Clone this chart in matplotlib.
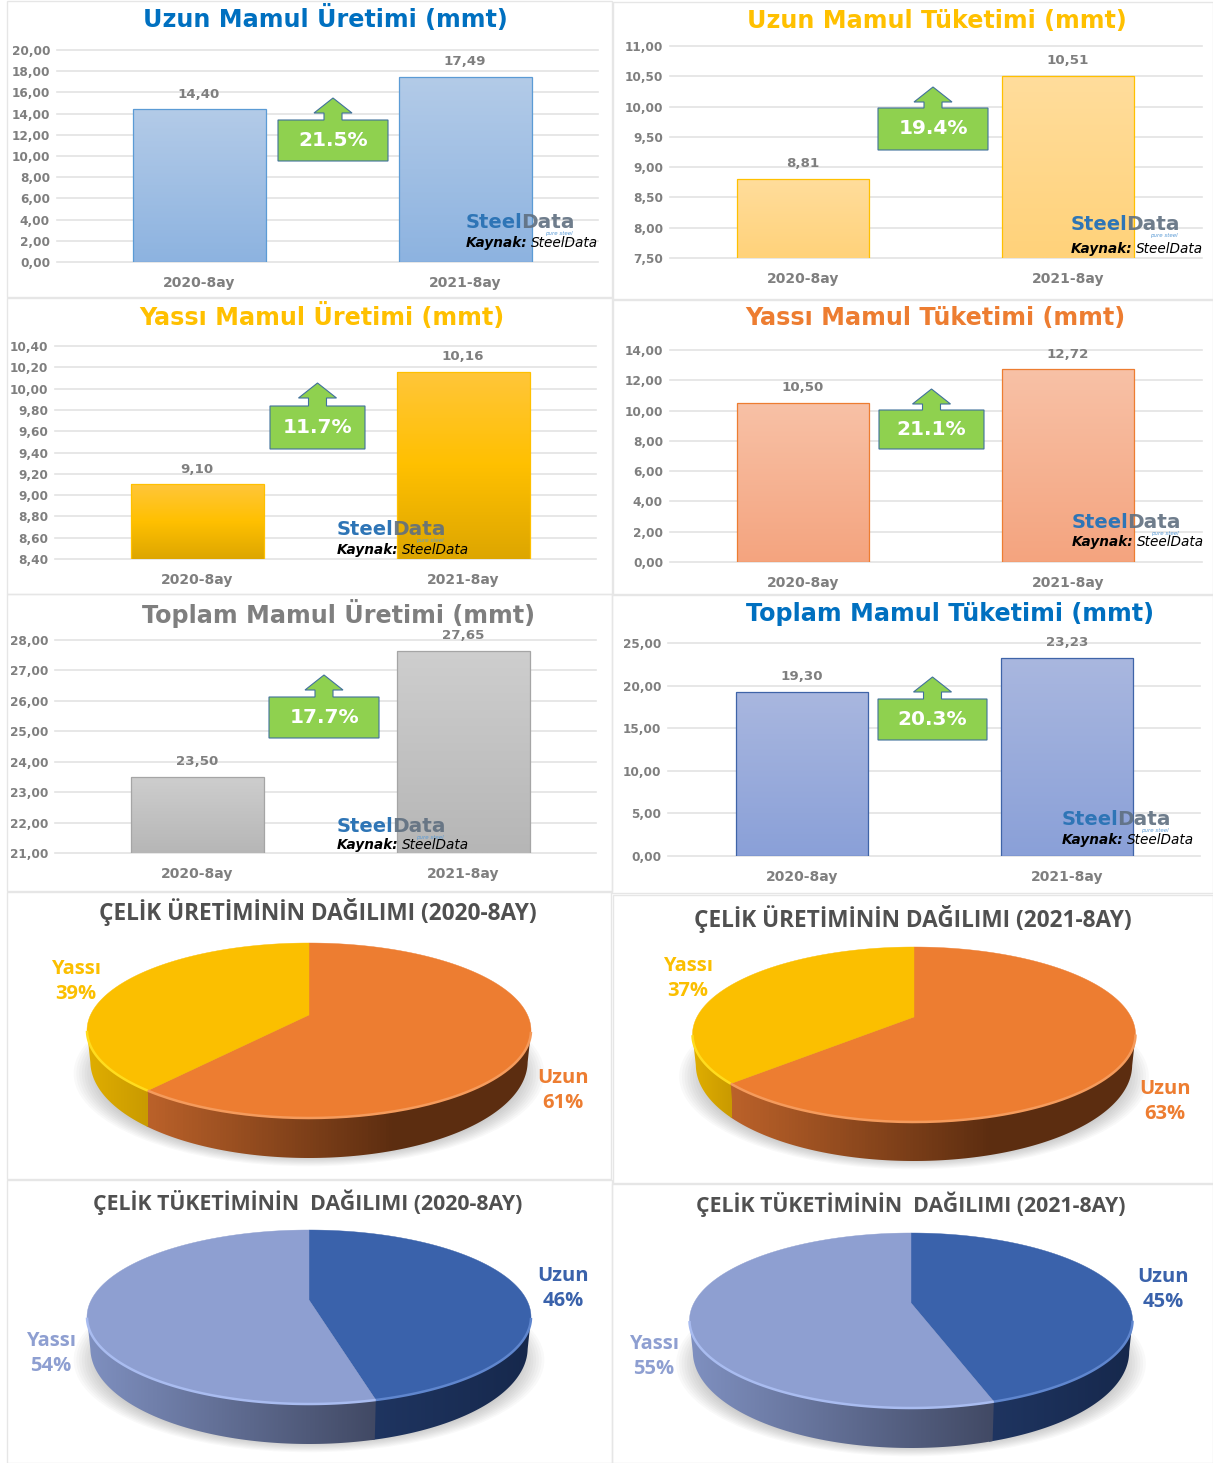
import numpy as np
import matplotlib
matplotlib.use("Agg")
import matplotlib.pyplot as plt
from matplotlib.patches import Polygon, Rectangle, Ellipse
from matplotlib.colors import to_rgb

W, H = 1213, 1463

# values
categories = ["2020-8ay", "2021-8ay"]
uzun_uretim = [14.40, 17.49]
uzun_tuketim = [8.81, 10.51]
yassi_uretim = [9.10, 10.16]
yassi_tuketim = [10.50, 12.72]
toplam_uretim = [23.50, 27.65]
toplam_tuketim = [19.30, 23.23]
artis = ["21.5%", "19.4%", "11.7%", "21.1%", "17.7%", "20.3%"]

uretim_2020 = [61, 39]
uretim_2021 = [63, 37]
tuketim_2020 = [46, 54]
tuketim_2021 = [45, 55]
pie_labels = ["Uzun", "Yassı"]

# bar panels: layout and style
bar_panels = [
    dict(title="Uzun Mamul Üretimi (mmt)", tcol="#0070C0", tpos=(325, 19), vals=uzun_uretim,
         box=(57, 598, 50, 262), cx=(199, 465), yr=(0, 20, 2),
         grad=("#B3CBE8", "#8DB3E0"), edge="#5B9BD5",
         green=(278, 388, 120, 161, 98), pct=artis[0], mark=(466, 222, 243)),
    dict(title="Uzun Mamul Tüketimi (mmt)", tcol="#FFC000", tpos=(937, 21), vals=uzun_tuketim,
         box=(670, 1202, 46, 258), cx=(803, 1068), yr=(7.5, 11, 0.5),
         grad=("#FFDD9C", "#FFD27A"), edge="#FFC000",
         green=(878, 988, 108, 150, 87), pct=artis[1], mark=(1071, 224, 249)),
    dict(title="Yassı Mamul Üretimi (mmt)", tcol="#FFC000", tpos=(322, 317), vals=yassi_uretim,
         box=(55, 596, 346, 559), cx=(197, 463), yr=(8.4, 10.4, 0.2),
         grad=("#FFC63A", "#FFC000", "#DDA600"), edge="#FFC000",
         green=(270, 365, 406, 449, 383), pct=artis[2], mark=(337, 529, 550)),
    dict(title="Yassı Mamul Tüketimi (mmt)", tcol="#ED7D31", tpos=(935, 318), vals=yassi_tuketim,
         box=(670, 1202, 350, 562), cx=(803, 1068), yr=(0, 14, 2),
         grad=("#F8C1A6", "#F4A47F"), edge="#ED7D31",
         green=(879, 984, 410, 449, 389), pct=artis[3], mark=(1072, 522, 542)),
    dict(title="Toplam Mamul Üretimi (mmt)", tcol="#7F7F7F", tpos=(339, 613), vals=toplam_uretim,
         box=(55, 596, 640, 853), cx=(197, 463), yr=(21, 28, 1),
         grad=("#CECECE", "#B6B6B6"), edge="#A5A5A5",
         green=(269, 379, 697, 738, 675), pct=artis[4], mark=(337, 826, 845)),
    dict(title="Toplam Mamul Tüketimi (mmt)", tcol="#0070C0", tpos=(950, 614), vals=toplam_tuketim,
         box=(668, 1200, 643, 856), cx=(802, 1067), yr=(0, 25, 5),
         grad=("#A9B7DF", "#8AA0D8"), edge="#3F64A8",
         green=(878, 987, 699, 740, 677), pct=artis[5], mark=(1062, 819, 840)),
]

# pies: apex, ellipse extents, wall bottom
orange = dict(top="#ED7D31", bevel="#F59B5C", wall=("#BC622A", "#5C2D10"), knee=0.65)
yellow = dict(top="#FBBF00", bevel="#FFDC1E", wall=("#E0AE00", "#C99A00"), knee=1.0)
blue = dict(top="#3A62AB", bevel="#5F86CE", wall=("#1F3561", "#16284C"), knee=1.0)
lilac = dict(top="#8E9FD1", bevel="#A9BCF0", wall=("#7F90C0", "#414964"), knee=1.0)
pies = [
    dict(title="ÇELİK ÜRETİMİNİN DAĞILIMI (2020-8AY)", fs=16.3, tpos=(318, 912), vals=uretim_2020,
         apex=(309, 1015), ext=(87, 531, 943, 1118, 1158), st=(orange, yellow),
         lpos=((563, 1078), (76, 969))),
    dict(title="ÇELİK ÜRETİMİNİN DAĞILIMI (2021-8AY)", fs=16.3, tpos=(913, 919), vals=uretim_2021,
         apex=(914, 1017), ext=(693, 1136, 947, 1122, 1161), st=(orange, yellow),
         lpos=((1165, 1089), (688, 966))),
    dict(title="ÇELİK TÜKETİMİNİN  DAĞILIMI (2020-8AY)", fs=15.3, tpos=(308, 1202), vals=tuketim_2020,
         apex=(309, 1300), ext=(87, 531, 1230, 1404, 1444), st=(blue, lilac),
         lpos=((563, 1276), (51, 1341))),
    dict(title="ÇELİK TÜKETİMİNİN  DAĞILIMI (2021-8AY)", fs=15.3, tpos=(911, 1204), vals=tuketim_2021,
         apex=(911, 1303), ext=(690, 1133, 1233, 1408, 1448), st=(blue, lilac),
         lpos=((1163, 1277), (654, 1344))),
]

frames = [(7, 612, 1, 297), (613, 1213, 2, 299), (7, 612, 298, 594), (613, 1213, 300, 594),
          (7, 612, 594, 891), (612, 1213, 595, 893), (7, 611, 892, 1179), (613, 1213, 895, 1183),
          (7, 612, 1180, 1463), (612, 1213, 1184, 1463)]

TXT = "#7F7F7F"
GRID = "#E3E3E3"

fig = plt.figure(figsize=(W / 100, H / 100), dpi=100, facecolor="white")

# overlay in picture pixels for titles, callouts, pies and frames
ov = fig.add_axes([0, 0, 1, 1], zorder=5)
ov.set_xlim(0, W)
ov.set_ylim(H, 0)
ov.set_autoscale_on(False)
ov.axis("off")
ov.patch.set_alpha(0)


def gradient(colors, vertical=True, n=128, knee=1.0):
    stops = np.array([to_rgb(c) for c in colors])
    pos = np.linspace(0, knee, len(stops))
    s = np.linspace(0, 1, n)
    img = np.stack([np.interp(s, pos, stops[:, i]) for i in range(3)], axis=-1)
    return img[:, None, :] if vertical else img[None, :, :]


def draw_bar_panel(p):
    x0, x1, y0, y1 = p["box"]
    ax = fig.add_axes([x0 / W, 1 - y1 / H, (x1 - x0) / W, (y1 - y0) / H])
    c0, c1 = p["cx"]
    lo, hi, step = p["yr"]
    ticks = np.arange(lo, hi + step / 2, step)
    ax.set_yticks(ticks)
    ax.set_yticklabels([f"{t:.2f}".replace(".", ",") for t in ticks])
    ax.set_xticks([0, 1])
    ax.set_xticklabels(categories)
    ax.tick_params(axis="y", length=0, pad=5, labelsize=8.7, labelcolor=TXT)
    ax.tick_params(axis="x", length=0, pad=10, labelsize=10, labelcolor=TXT)
    for lab in ax.get_xticklabels() + ax.get_yticklabels():
        lab.set_fontweight("bold")
    for s in ax.spines.values():
        s.set_visible(False)
    ax.set_axisbelow(True)
    ax.yaxis.grid(True, color=GRID, lw=1.2)
    for g in ax.get_ygridlines():
        g.set_clip_on(False)

    bars = ax.bar([0, 1], p["vals"], width=0.5, facecolor="none", edgecolor=p["edge"], lw=0.9, zorder=3)
    for i, (b, v) in enumerate(zip(bars, p["vals"])):
        im = ax.imshow(gradient(p["grad"]), extent=(i - 0.25, i + 0.25, lo, v), aspect="auto", zorder=2)
        im.set_clip_path(b)
        ax.annotate(f"{v:.2f}".replace(".", ","), (i, v), xytext=(0, 11), textcoords="offset points",
                    ha="center", va="center", fontsize=9.6, fontweight="bold", color=TXT, zorder=4)
    ax.set_xlim((x0 - c0) / (c1 - c0), (x1 - c0) / (c1 - c0))
    ax.set_ylim(lo, hi)

    ov.text(p["tpos"][0], p["tpos"][1], p["title"], color=p["tcol"], fontsize=17.2, fontweight="bold",
            ha="center", va="center")

    # green callout with arrow on top
    bx0, bx1, by0, by1, tip = p["green"]
    mid = (bx0 + bx1) / 2
    ov.add_patch(Polygon([(mid, tip), (mid + 19, tip + 15), (mid + 9, tip + 15), (mid + 9, by0),
                          (bx1, by0), (bx1, by1), (bx0, by1), (bx0, by0), (mid - 9, by0),
                          (mid - 9, tip + 15), (mid - 19, tip + 15)],
                         closed=True, facecolor="#8FD14F", edgecolor="#41719C", lw=0.8))
    ov.text(mid, (by0 + by1) / 2, p["pct"], color="white", fontsize=14.5, fontweight="bold",
            ha="center", va="center")

    # watermark
    mx, my1, my2 = p["mark"]
    r = fig.canvas.get_renderer()
    t = ov.text(mx, my1 + 6, "Steel", color="#2E75B6", fontsize=14, fontweight="bold", va="baseline")
    nx = t.get_window_extent(r).x1 - 2
    d = ov.text(nx, my1 + 6, "Data", color="#5F6F80", fontsize=14.5, fontweight="bold", va="baseline", alpha=0.9)
    ov.text(d.get_window_extent(r).x1 - 2, my1 + 13, "pure steel", color="#5B9BD5", fontsize=4,
            style="italic", ha="right", va="baseline")
    t = ov.text(mx, my2 + 4, "Kaynak:", color="black", fontsize=9.8, fontweight="bold", style="italic", va="baseline")
    ov.text(t.get_window_extent(r).x1 + 3, my2 + 4, "SteelData", color="black", fontsize=9.8, style="italic", va="baseline")


def draw_pie(p):
    cx, ay = p["apex"]
    xl, xr, top, bot, wall = p["ext"]
    up, down = ay - top, bot - ay
    # perspective of a tilted disc, the apex is above the ellipse centre
    b = (down - up) / (down + up)
    a = up * (1 + b)
    rx = (xr - xl) / 2 * np.sqrt(1 - b ** 2)
    depth = wall - bot
    shrink = 0.985

    def project(t):
        return cx + rx * np.cos(t) / (1 + b * np.sin(t)), ay - a * np.sin(t) / (1 + b * np.sin(t))

    # soft shadow
    ey = (top + bot) / 2 + depth + 3
    for s in np.linspace(1.06, 0.9, 14):
        ov.add_patch(Ellipse((cx, ey), (xr - xl) * s, (bot - top) * s, facecolor="#555555",
                             edgecolor="none", alpha=0.035, zorder=1))

    total = sum(p["vals"])
    start = np.pi / 2
    for v, st, lab, lp in zip(p["vals"], p["st"], pie_labels, p["lpos"]):
        end = start - 2 * np.pi * v / total
        t = np.linspace(start, end, 240)
        x, y = project(t)
        front = np.sin(t) < -b
        if front.any():
            # a little extra past the end so no white seam shows between walls
            tw = np.linspace(start, end - 0.02, 240)
            wx, wy = project(tw)
            keep = np.sin(tw) < -b
            fx, fy = wx[keep], wy[keep]
            lowx = cx + (fx - cx) * shrink
            lowy = fy + depth * (0.72 + 0.28 * np.abs(np.sin(tw[keep])))
            poly = Polygon(np.r_[np.c_[fx, fy], np.c_[lowx, lowy][::-1]], closed=True,
                           facecolor="none", edgecolor="none", zorder=2)
            ov.add_patch(poly)
            im = ov.imshow(gradient(st["wall"], vertical=False, knee=st["knee"]),
                           extent=(fx.min(), fx.max(), wall + 2, fy.min() - 2), aspect="auto", zorder=2)
            im.set_clip_path(poly)
        ov.add_patch(Polygon(np.r_[[(cx, ay)], np.c_[x, y]], closed=True, facecolor=st["top"],
                             edgecolor=st["top"], lw=0.3, zorder=3))
        if front.any():
            ov.plot(x[front], y[front], color=st["bevel"], lw=1.8, solid_capstyle="butt", zorder=4)
        col = st["top"]
        ov.text(lp[0], lp[1], lab, color=col, fontsize=14.5, fontweight="bold", family="Open Sans",
                ha="center", va="center", zorder=5)
        ov.text(lp[0], lp[1] + 25, f"{v}%", color=col, fontsize=14.5, fontweight="bold", family="Open Sans",
                ha="center", va="center", zorder=5)
        start = end

    ov.text(p["tpos"][0], p["tpos"][1], p["title"], color="#505050", fontsize=p["fs"], fontweight="bold",
            family="Open Sans", ha="center", va="center", zorder=5)


for f in frames:
    ov.add_patch(Rectangle((f[0], f[2]), f[1] - f[0], f[3] - f[2], facecolor="none",
                           edgecolor="#E6E6E6", lw=1, zorder=0))

for panel in bar_panels:
    draw_bar_panel(panel)
for pie in pies:
    draw_pie(pie)

ov.set_xlim(0, W)
ov.set_ylim(H, 0)
fig.savefig("out.png", dpi=100, facecolor="white")
